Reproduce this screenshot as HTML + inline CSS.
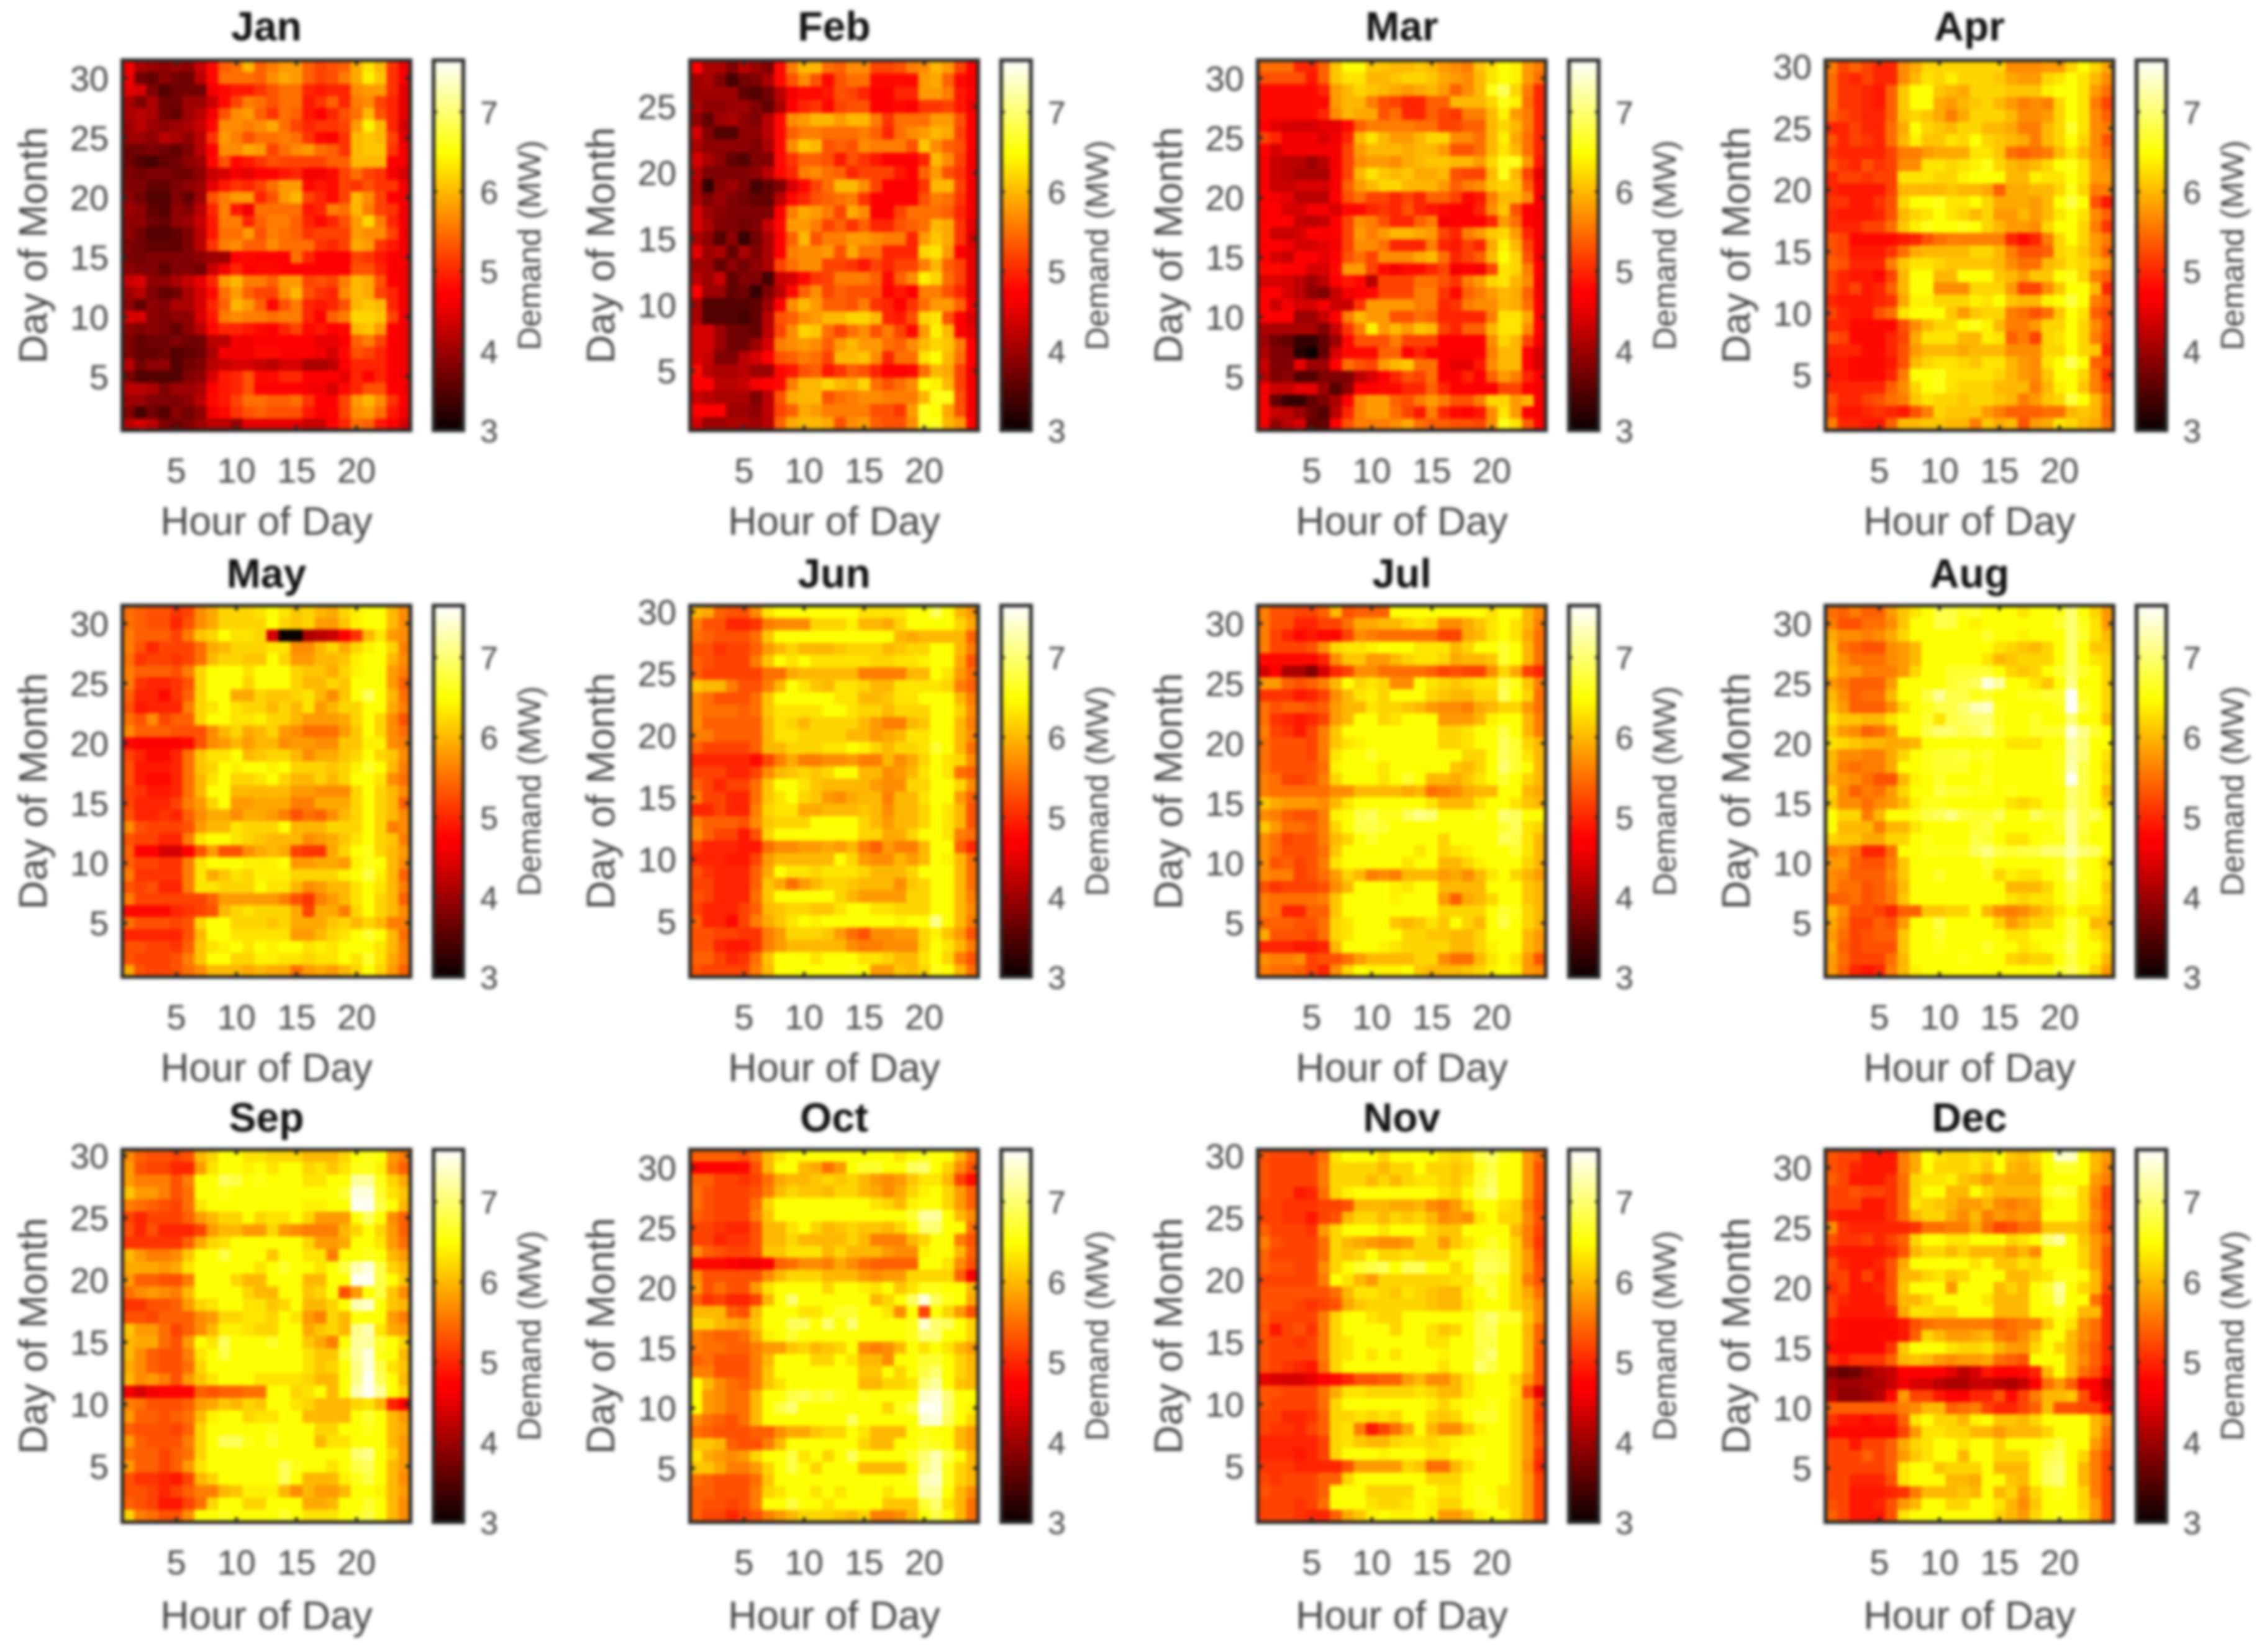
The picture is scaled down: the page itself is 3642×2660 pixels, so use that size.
<!DOCTYPE html>
<html lang="en">
<head>
<meta charset="utf-8">
<title>Monthly Demand Heatmaps</title>
<style>
html,body{margin:0;padding:0;background:#fff;width:3642px;height:2660px;overflow:hidden}
svg{display:block;filter:blur(2.6px)}
text{font-family:"Liberation Sans",Arial,sans-serif}
</style>
</head>
<body>
<svg id="chart" xmlns="http://www.w3.org/2000/svg" width="3642" height="2660" viewBox="0 0 3642 2660"></svg>
<script>
// Values are demand in tenths of a MW. Each month lists rows from the last day (top) down to day 1; each row holds hours 1-24.
const monthNames=['Jan','Feb','Mar','Apr','May','Jun','Jul','Aug','Sep','Oct','Nov','Dec'];
const hourTicks=[5,10,15,20];
const dayTicks=[5,10,15,20,25,30];
const febDayTicks=[5,10,15,20,25];
const colorbarTicks=[3,4,5,6,7];
const demandMin=3;
const demandMax=7.65;
const jan=[
[46,41,40,39,40,39,43,48,54,55,60,54,56,58,58,54,52,53,54,59,63,60,51,46],
[46,37,36,39,37,37,42,48,55,55,55,54,57,59,58,54,52,53,56,59,64,61,51,47],
[45,44,38,35,37,37,37,46,48,49,49,51,53,55,55,50,49,50,50,57,58,58,51,45],
[41,38,41,37,37,40,40,43,48,52,56,55,53,55,55,49,51,54,50,56,57,52,50,45],
[41,42,41,37,36,40,42,46,53,57,58,54,51,55,54,49,47,50,53,55,60,53,50,45],
[40,42,40,39,40,41,43,48,57,57,56,57,59,55,52,50,51,51,52,58,64,60,50,44],
[40,40,39,42,41,39,42,51,58,56,53,55,55,56,55,51,48,47,51,60,61,60,52,45],
[37,37,38,37,36,38,42,47,57,57,59,58,52,55,57,58,55,54,51,60,61,61,51,46],
[37,35,34,36,37,39,40,48,53,48,49,51,53,52,52,52,52,54,54,60,60,60,47,46],
[38,37,38,38,37,37,39,43,44,46,45,47,47,49,50,46,46,48,52,55,52,51,46,44],
[38,38,36,36,38,39,40,45,49,51,50,52,55,58,58,48,49,48,52,51,53,51,51,46],
[39,37,35,35,38,36,40,53,56,58,58,50,53,58,60,52,50,48,52,60,57,52,47,46],
[40,39,36,35,39,38,42,50,56,49,46,55,55,55,55,49,50,56,55,60,56,52,51,46],
[39,39,37,36,39,40,43,49,56,56,50,54,56,56,54,50,48,50,53,58,62,56,50,46],
[39,37,35,35,36,38,42,49,55,55,58,53,56,55,54,51,52,52,52,58,57,57,52,46],
[38,37,36,36,36,38,42,51,56,57,54,54,57,55,55,55,51,50,52,59,58,51,49,46],
[38,37,38,38,38,38,39,40,40,47,48,47,47,47,55,50,47,47,47,52,51,49,47,46],
[39,38,38,36,38,38,37,43,46,50,47,48,48,47,47,47,47,47,47,53,53,50,47,46],
[43,44,39,39,41,43,45,50,58,60,56,56,54,58,58,52,53,52,56,60,59,53,47,46],
[40,42,38,36,37,41,44,48,55,58,54,52,52,57,60,53,51,50,57,60,59,52,50,46],
[39,36,39,38,41,41,44,50,54,60,58,54,48,53,56,50,49,50,53,60,61,60,50,46],
[44,44,39,38,39,39,44,49,56,57,56,56,55,56,56,50,47,54,56,62,62,61,52,46],
[39,38,39,38,36,39,42,48,50,50,49,48,47,50,52,48,49,47,48,60,61,58,47,46],
[38,36,37,37,38,37,37,42,42,46,46,47,47,47,47,47,45,45,47,54,56,52,47,46],
[38,36,36,37,35,36,37,41,46,46,46,48,48,47,47,47,46,44,48,53,52,50,47,46],
[42,37,39,39,35,37,38,42,43,44,44,43,42,44,44,41,41,42,47,50,50,50,47,46],
[38,35,35,35,35,38,39,44,49,50,53,48,48,50,50,47,47,47,45,50,47,50,47,46],
[42,42,41,38,40,40,41,47,49,50,53,47,47,47,47,46,46,44,48,50,53,53,47,46],
[40,40,38,38,38,39,42,48,49,52,55,55,54,54,55,51,47,47,52,58,60,57,51,47],
[38,34,37,35,39,37,39,46,48,51,53,54,53,53,53,49,47,47,52,57,58,55,49,46],
[42,44,42,38,37,38,40,42,42,40,45,45,45,45,45,43,43,47,50,55,54,49,47,44]
];
const feb=[
[47,41,41,38,42,40,38,48,56,60,60,55,54,57,57,52,52,53,56,57,60,58,52,47],
[40,41,38,34,37,38,41,48,53,57,53,48,53,55,55,48,48,48,48,58,59,54,48,46],
[40,40,40,40,36,35,37,42,46,48,48,49,53,52,50,47,47,50,50,58,58,56,49,47],
[41,39,39,40,40,38,36,41,47,50,51,48,52,53,53,47,47,48,47,51,51,52,49,46],
[39,36,40,41,39,38,42,48,57,58,60,60,58,60,60,56,51,55,55,55,58,58,53,47],
[44,38,35,35,39,39,42,48,54,56,56,55,55,55,56,54,50,55,57,58,60,59,52,47],
[41,39,39,39,39,38,41,48,57,61,60,53,54,53,57,56,56,56,53,61,57,54,53,47],
[44,41,39,36,35,38,38,48,51,54,54,53,49,53,51,49,47,47,47,50,60,57,52,46],
[42,38,38,38,38,39,42,48,50,56,57,55,54,50,52,52,52,49,47,54,58,53,51,46],
[41,33,39,40,38,34,36,38,44,48,52,55,60,60,57,52,47,47,47,51,60,60,52,46],
[41,38,40,38,37,36,36,42,48,50,53,54,55,56,51,47,47,47,47,53,56,55,51,46],
[44,40,39,38,38,38,38,47,56,59,58,56,52,59,57,47,47,52,55,55,55,54,50,46],
[44,41,38,38,37,38,43,48,58,58,56,52,54,51,54,50,50,53,54,55,60,59,51,45],
[41,39,35,39,33,37,41,47,54,60,53,56,56,58,58,57,56,56,50,58,61,59,51,44],
[45,40,41,36,41,38,41,47,56,57,57,58,53,59,55,55,50,50,50,62,63,58,47,45],
[40,40,36,39,37,39,41,52,55,57,57,52,52,51,49,52,50,52,52,56,60,54,52,45],
[42,40,43,36,38,38,34,43,44,48,51,52,56,56,56,54,48,54,57,64,62,55,52,45],
[47,40,40,36,37,33,38,42,48,54,57,52,54,53,53,53,47,49,47,56,56,53,50,45],
[41,35,35,35,35,36,40,47,57,60,58,54,54,53,56,51,50,47,51,55,58,58,54,46],
[41,35,35,35,34,36,42,53,54,57,58,60,60,62,62,60,50,49,53,62,63,53,47,44],
[44,44,40,37,37,36,42,52,57,62,61,55,52,55,57,53,56,52,48,58,64,60,47,45],
[44,44,40,37,37,40,44,56,57,58,57,54,58,60,58,58,55,54,57,60,62,61,56,47],
[44,43,38,38,42,44,47,53,54,56,55,52,60,60,61,57,50,55,55,63,65,60,55,47],
[48,42,41,41,42,40,40,48,49,53,54,49,51,54,53,50,47,47,48,55,60,59,52,46],
[47,47,42,42,43,46,47,48,56,60,60,62,60,59,62,55,53,55,57,65,64,60,52,46],
[43,42,41,41,41,38,42,53,59,60,60,53,55,56,57,57,56,56,56,60,66,66,53,46],
[47,47,47,40,40,39,42,52,54,59,58,56,56,56,56,53,53,51,58,66,65,59,53,46],
[44,40,40,41,41,40,42,54,59,60,60,59,53,57,58,54,53,53,57,66,66,60,58,47]
];
const mar=[
[55,55,55,50,50,54,61,65,65,61,61,60,60,61,60,58,57,56,61,63,65,64,58,56],
[53,53,53,53,49,54,61,63,63,60,60,61,62,62,61,59,58,57,60,63,65,64,58,55],
[48,48,48,48,48,50,58,60,62,61,60,59,58,59,60,58,54,57,60,66,69,62,56,50],
[48,48,48,48,48,48,58,60,60,56,53,52,50,50,54,54,60,60,60,62,66,64,55,50],
[48,48,48,48,48,50,57,60,59,59,53,55,50,50,54,52,51,56,56,60,64,58,56,50],
[47,45,44,44,44,45,45,48,54,56,56,56,56,55,55,52,52,54,54,60,62,60,56,50],
[52,50,46,46,46,44,46,50,60,63,60,58,58,60,62,62,57,57,55,60,64,59,55,50],
[47,44,46,46,46,46,46,52,58,60,60,60,59,60,60,58,53,53,55,60,63,60,55,50],
[46,43,42,42,40,42,46,52,57,58,58,57,59,60,61,61,60,60,58,62,66,66,58,49],
[46,43,42,41,41,41,46,52,60,63,61,60,61,59,59,60,53,52,52,60,66,60,52,45],
[46,43,43,44,44,44,46,54,58,60,62,62,60,60,60,58,54,56,57,61,62,61,54,46],
[47,46,45,42,42,42,47,53,55,52,52,50,52,50,54,54,52,48,49,56,60,60,57,46],
[47,47,44,44,46,46,44,48,48,50,51,50,53,50,49,48,47,47,50,57,61,53,47,46],
[47,47,47,43,42,43,47,52,57,56,53,50,50,54,56,46,47,47,47,50,58,55,47,46],
[47,43,43,44,47,47,47,52,58,56,58,60,60,59,58,52,50,56,58,61,62,58,50,46],
[47,47,46,44,44,45,46,52,57,57,55,50,50,50,56,50,49,52,50,59,64,60,52,46],
[47,44,43,47,47,45,47,53,55,52,57,57,57,59,60,55,50,52,54,60,65,62,53,46],
[48,48,47,47,44,44,48,58,58,52,48,46,48,48,50,52,46,47,46,52,63,62,56,47],
[44,44,44,42,40,42,47,49,48,42,52,52,52,55,55,53,51,56,58,62,63,60,57,46],
[47,47,44,42,39,38,43,46,47,48,52,52,52,56,56,51,48,54,56,58,60,59,54,46],
[47,43,46,44,44,46,43,43,51,58,58,58,58,56,56,50,51,56,57,57,60,59,55,47],
[47,47,47,40,40,43,47,56,60,58,58,53,53,55,54,50,50,50,50,56,63,63,59,47],
[41,41,41,41,41,38,43,51,56,64,58,60,58,61,60,52,50,54,54,60,63,63,57,47],
[40,37,36,33,33,36,40,48,53,53,53,56,52,52,52,47,47,47,47,57,62,60,52,46],
[41,38,38,32,30,36,44,48,48,48,54,54,47,50,47,47,47,47,47,56,60,60,47,44],
[43,38,38,45,40,40,47,55,53,52,58,60,61,55,55,47,45,45,49,57,60,60,47,44],
[42,38,39,35,35,38,38,38,42,44,47,50,53,52,55,47,47,50,47,54,58,56,50,47],
[46,43,43,45,45,40,35,39,47,47,48,48,50,50,54,50,47,47,47,47,52,52,47,46],
[46,36,33,33,36,38,41,47,56,58,58,54,53,56,58,56,53,53,56,62,62,58,60,46],
[46,43,42,40,37,35,42,50,56,58,58,55,52,49,56,50,48,47,49,57,63,58,47,46],
[46,39,42,44,36,36,47,53,56,56,56,57,59,55,54,54,53,53,52,57,66,63,54,47]
];
const apr=[
[56,52,54,52,50,50,57,59,62,62,62,62,62,62,62,57,57,57,58,58,62,65,62,59],
[55,51,50,52,50,50,57,60,63,62,64,62,62,62,61,59,58,58,62,63,65,63,60,57],
[55,51,51,50,49,54,61,65,65,61,60,59,62,62,62,61,61,61,64,65,65,63,58,55],
[55,51,51,50,49,54,61,65,65,59,58,60,61,62,60,58,56,57,56,62,65,63,56,52],
[54,52,51,50,50,54,61,62,61,59,56,59,62,62,62,60,57,57,58,62,65,63,57,54],
[50,50,52,50,50,55,59,65,62,61,60,62,62,60,60,59,56,56,60,62,67,63,57,56],
[53,50,52,51,50,55,60,64,61,61,63,62,65,62,61,60,59,56,60,62,65,62,57,53],
[51,50,50,50,50,52,56,56,58,59,59,59,63,63,61,55,54,55,56,60,63,60,57,55],
[53,51,50,53,51,52,57,57,63,63,62,63,64,66,62,60,59,60,62,65,66,63,58,57],
[50,52,52,51,52,52,63,63,63,62,62,64,65,65,65,60,60,64,63,63,65,63,58,58],
[50,49,49,49,49,52,60,60,60,60,61,60,60,59,54,59,59,60,60,62,66,62,56,56],
[51,51,49,49,51,53,62,65,65,66,63,63,65,62,59,59,59,58,60,65,68,65,53,49],
[50,49,49,49,50,53,60,62,63,65,63,62,60,62,58,58,60,58,60,63,65,63,57,54],
[50,50,50,52,52,55,61,64,66,65,65,66,65,62,60,58,58,57,62,65,65,62,56,51],
[53,52,48,48,48,48,49,50,53,55,56,56,56,56,56,50,48,50,56,62,65,62,58,56],
[53,52,49,49,49,51,55,59,60,60,60,60,62,62,60,56,53,53,54,62,63,61,58,54],
[54,53,50,50,50,56,61,63,63,62,61,61,61,61,60,57,55,55,60,61,63,62,60,58],
[52,50,49,49,48,52,60,65,65,60,60,65,65,65,61,60,58,61,61,65,66,62,56,54],
[52,50,52,49,50,54,60,65,65,57,57,57,62,62,62,58,52,52,57,61,65,65,60,50],
[50,49,49,49,50,51,59,64,64,62,62,62,64,63,65,61,60,60,64,65,68,65,56,54],
[52,50,49,49,53,55,63,65,65,65,61,58,61,62,62,56,55,53,55,61,65,63,54,52],
[50,50,48,48,48,48,53,57,60,62,62,65,66,64,60,56,56,58,62,62,65,62,57,53],
[53,52,48,48,48,50,52,59,63,63,63,60,60,64,63,54,56,52,62,63,65,62,56,52],
[50,50,50,48,48,50,53,58,60,60,60,59,60,60,60,57,57,57,62,62,65,62,61,50],
[49,49,48,48,48,49,53,60,62,63,63,62,61,63,63,60,58,57,63,65,69,65,54,53],
[49,49,48,48,48,50,56,65,65,66,63,63,63,63,62,60,58,57,61,65,65,62,56,50],
[50,50,50,50,50,54,57,62,65,66,63,62,62,62,60,60,60,56,60,64,65,61,56,52],
[53,50,50,52,53,55,56,61,63,62,62,61,62,62,61,60,56,58,61,62,68,65,60,55],
[52,49,49,50,51,50,49,53,56,62,61,61,61,58,56,54,54,54,55,55,60,61,60,54],
[56,50,50,49,49,54,60,60,61,61,60,60,56,61,59,60,53,58,59,63,62,60,59,55]
];
const may=[
[55,54,53,53,51,52,57,59,62,62,62,63,65,63,61,62,60,59,62,64,65,65,60,57],
[55,54,53,53,50,53,57,59,62,62,62,62,65,62,61,62,58,58,61,64,65,65,60,57],
[56,54,54,54,52,56,61,62,65,63,63,62,44,30,30,41,42,43,47,51,60,63,58,57],
[56,53,50,52,52,52,55,59,60,62,62,62,63,63,57,57,60,62,59,62,64,65,62,56],
[55,51,52,52,51,52,55,60,62,62,61,61,65,62,58,58,60,60,61,64,65,65,60,57],
[56,54,54,54,53,56,62,65,65,65,63,65,65,65,62,61,61,59,62,64,65,65,58,56],
[56,51,50,50,51,53,62,65,65,65,62,65,65,65,62,60,60,62,61,65,65,65,58,54],
[54,50,50,48,51,54,62,65,65,59,59,62,61,61,62,63,60,57,61,65,69,65,60,55],
[53,49,50,50,50,56,62,63,65,63,62,62,60,62,60,63,58,60,62,62,65,65,59,56],
[55,53,57,52,54,54,62,65,65,63,63,64,62,62,60,58,58,58,59,62,65,62,57,53],
[57,54,54,54,53,53,53,57,60,62,59,60,62,58,57,55,55,55,58,61,65,62,57,55],
[48,47,47,47,47,48,53,57,58,60,58,60,60,57,58,58,57,57,61,61,64,64,57,56],
[52,50,48,48,50,55,61,63,63,65,60,61,62,62,60,57,59,59,61,62,65,62,61,57],
[53,49,49,49,50,55,61,62,65,64,65,65,64,65,62,62,62,61,62,64,67,65,60,56],
[53,49,48,48,50,55,60,63,65,62,62,63,65,62,60,60,62,60,62,65,65,63,57,55],
[52,51,49,49,50,55,60,65,65,60,60,60,60,60,58,58,57,57,57,62,65,62,60,57],
[52,50,50,50,52,56,58,62,65,58,58,59,59,59,56,56,59,59,59,62,65,62,60,54],
[53,50,50,51,50,54,57,59,59,57,59,59,58,56,53,55,54,57,60,62,65,62,60,57],
[57,53,52,52,52,53,58,60,60,63,62,62,62,65,60,60,60,62,62,62,65,62,56,57],
[53,52,52,50,50,56,63,65,65,63,62,61,60,60,60,57,58,59,61,63,65,62,61,56],
[54,47,47,44,44,47,53,58,53,53,57,59,60,59,52,51,51,59,62,65,66,62,60,58],
[54,52,52,51,51,56,63,65,65,65,64,64,64,65,58,58,59,59,58,64,66,65,60,57],
[56,51,51,51,51,56,63,59,61,63,62,64,64,64,62,62,62,62,64,65,68,64,60,54],
[53,52,53,50,50,56,63,63,62,62,62,65,63,63,60,57,58,60,60,63,65,63,60,56],
[56,52,52,52,52,52,52,54,58,58,58,58,58,56,53,51,56,58,60,63,65,62,60,54],
[48,48,48,48,50,51,52,53,60,62,63,62,62,62,59,52,59,59,56,62,65,62,60,57],
[55,53,53,53,52,53,62,65,65,62,62,62,61,62,59,59,59,61,62,60,62,60,56,56],
[50,50,50,50,50,53,60,65,65,63,63,63,63,63,58,58,60,62,63,65,67,65,60,55],
[53,53,52,52,51,54,61,63,64,65,63,65,64,65,65,63,64,63,65,65,65,63,60,56],
[53,52,52,52,53,56,61,65,65,62,62,64,64,63,63,62,63,63,65,63,67,63,59,56],
[59,53,52,52,53,55,57,60,60,60,59,60,59,59,55,58,59,58,60,62,65,62,58,54]
];
const jun=[
[60,59,54,53,53,57,63,65,65,65,65,65,65,65,63,63,63,63,65,65,69,65,60,58],
[56,53,53,50,50,51,56,57,57,57,62,62,62,64,60,60,59,62,65,65,65,65,62,59],
[55,54,53,53,53,55,61,65,65,65,65,65,65,65,65,65,65,60,59,60,60,60,60,54],
[53,53,51,52,52,54,58,60,62,60,60,60,61,62,62,62,60,61,62,62,65,65,60,56],
[54,53,52,52,52,56,61,65,63,65,63,63,63,63,63,62,62,63,63,64,65,65,59,53],
[54,52,52,52,52,52,55,55,59,60,60,60,60,60,56,56,56,56,60,60,65,63,58,55],
[61,60,60,56,53,53,56,60,65,63,61,60,63,63,62,60,60,63,63,63,63,62,56,54],
[57,55,53,53,53,55,61,65,65,65,65,65,63,63,60,60,61,63,63,65,65,65,60,56],
[57,55,55,55,54,55,61,63,63,63,63,65,65,63,62,62,60,62,62,62,65,65,62,57],
[57,54,54,54,54,54,60,63,62,60,62,62,62,62,60,58,56,56,60,61,65,65,60,56],
[56,56,54,54,54,54,60,63,63,62,62,62,62,60,60,58,59,60,63,63,65,65,60,57],
[54,52,52,52,52,54,60,60,62,62,62,63,63,65,64,62,60,62,62,63,67,65,60,55],
[50,50,50,50,50,48,52,56,59,56,56,57,57,58,56,56,60,57,59,62,65,63,62,57],
[52,52,52,50,50,52,57,60,61,62,61,62,65,65,60,60,57,58,60,63,65,63,55,54],
[54,52,50,52,52,55,61,65,65,63,61,60,60,60,60,58,57,57,62,62,65,65,62,57],
[56,52,52,50,50,55,61,63,65,62,61,58,57,59,60,60,56,60,60,63,65,65,58,54],
[50,50,52,50,50,56,62,63,63,59,59,60,60,60,61,60,57,60,60,62,65,63,60,53],
[56,54,54,54,53,57,61,62,62,62,65,65,65,65,62,60,58,60,60,62,65,63,60,53],
[57,54,52,52,49,53,62,65,65,65,65,65,65,65,62,62,59,59,62,65,65,63,56,55],
[52,50,50,50,49,49,55,57,57,58,58,59,58,60,56,54,58,56,56,60,65,65,54,50],
[50,50,50,49,49,52,58,60,60,60,60,60,65,62,58,57,57,60,58,60,65,64,60,55],
[53,51,50,50,50,54,59,65,63,63,62,63,63,63,62,60,60,60,62,65,65,65,60,55],
[52,52,50,50,50,54,61,59,55,58,60,62,62,61,60,60,60,57,61,62,65,65,60,55],
[53,52,50,50,50,55,61,65,65,65,65,65,62,60,58,58,58,58,62,62,65,65,60,56],
[52,50,50,50,52,54,60,61,62,62,61,61,63,65,65,63,63,62,62,62,65,65,60,57],
[54,50,50,48,52,56,59,61,63,65,64,65,65,65,65,65,65,64,65,65,71,65,60,56],
[53,53,52,52,51,51,56,58,62,62,62,61,58,55,53,57,57,58,58,62,64,61,58,53],
[53,53,50,49,49,51,56,58,60,60,60,60,60,57,56,56,57,57,57,62,65,63,60,56],
[54,54,52,50,51,55,61,65,65,65,63,65,65,65,63,63,62,60,60,63,65,62,56,53],
[53,52,52,52,52,56,60,65,65,65,65,65,65,66,65,58,58,61,60,62,66,65,60,55]
];
const jul=[
[56,53,53,52,52,54,60,53,54,54,54,65,65,65,65,65,65,65,65,63,65,65,60,57],
[56,53,53,50,50,52,52,55,59,59,60,60,62,63,62,57,57,59,61,63,65,63,60,56],
[56,52,50,48,49,48,48,52,57,56,55,55,55,55,55,52,52,59,60,63,65,63,59,55],
[56,52,52,52,53,57,62,63,63,64,65,65,65,63,63,63,60,62,65,65,67,65,60,55],
[48,48,48,48,48,50,57,61,61,58,58,60,62,63,63,62,59,60,60,61,67,65,60,55],
[44,47,41,41,38,44,50,52,57,57,55,55,55,55,54,52,53,52,52,57,62,59,52,50],
[58,58,54,53,54,56,60,65,62,63,62,57,57,65,63,62,61,62,63,63,68,66,61,56],
[51,51,51,49,50,52,57,60,63,64,62,65,65,65,62,61,60,60,62,62,69,65,62,55],
[55,53,54,54,53,54,58,60,60,63,62,62,61,60,58,57,57,56,59,60,62,62,58,55],
[55,51,50,49,50,52,58,60,65,65,62,63,65,65,65,58,58,58,60,64,65,65,60,56],
[56,52,51,49,52,56,61,65,65,65,65,65,65,65,65,62,62,63,65,65,68,65,60,56],
[55,53,53,53,52,56,61,63,64,65,65,65,65,65,65,62,62,63,65,65,69,67,62,60],
[55,53,53,53,52,56,63,65,65,67,65,65,65,65,65,65,65,62,62,65,69,67,63,60],
[55,53,53,53,53,55,64,65,65,65,63,65,65,65,65,65,61,60,62,65,70,67,65,60],
[56,55,52,52,53,56,62,65,65,65,63,65,67,65,60,60,59,61,63,65,67,65,62,60],
[56,55,55,55,55,55,57,57,60,60,60,60,59,60,55,56,57,59,60,60,65,65,60,59],
[61,59,58,58,58,57,60,63,65,65,65,65,65,65,63,60,60,60,63,65,65,63,61,60],
[57,56,54,53,53,56,64,65,68,69,66,66,69,71,70,65,65,65,66,65,70,69,65,65],
[61,58,55,55,54,56,62,65,68,68,67,65,65,65,65,65,65,65,65,65,67,69,63,62],
[57,55,52,53,53,56,60,62,65,67,65,65,65,65,65,62,65,65,65,65,69,68,63,60],
[57,55,53,53,53,55,61,65,65,65,65,65,65,63,65,62,63,64,65,65,65,67,63,60],
[57,53,54,52,53,56,63,65,65,65,65,65,63,65,65,60,60,62,64,65,65,65,62,60],
[57,56,56,52,53,55,58,62,60,56,57,56,60,60,60,58,59,57,60,63,65,62,60,58],
[53,51,52,52,52,53,57,60,65,65,65,64,63,65,65,60,60,60,60,65,65,65,61,60],
[56,55,55,55,55,56,61,65,65,65,65,64,65,65,65,58,54,59,60,62,65,65,61,60],
[56,55,50,50,54,54,61,65,65,65,65,65,65,65,65,62,62,62,62,65,67,66,62,60],
[54,54,54,53,53,55,62,63,65,65,65,61,60,61,63,61,65,62,60,65,68,65,62,60],
[59,53,53,53,52,55,62,63,65,65,65,65,62,62,61,61,60,60,62,65,65,65,60,58],
[50,50,50,49,49,50,60,65,65,65,64,63,62,62,62,62,60,60,62,64,65,65,60,58],
[57,56,56,57,52,53,53,55,58,60,60,60,60,62,62,57,55,55,60,63,65,63,58,53],
[56,55,55,54,52,50,57,62,65,64,64,64,65,61,60,60,60,61,62,64,65,64,58,57]
];
const aug=[
[55,54,56,54,54,58,61,63,65,68,68,66,67,65,65,65,63,65,65,66,70,65,62,58],
[56,53,53,55,55,57,61,65,65,68,68,65,64,65,65,65,65,65,65,67,70,66,63,58],
[59,57,57,56,57,59,62,65,65,65,65,65,65,67,65,65,64,65,65,65,70,67,63,60],
[60,55,54,53,53,57,58,60,65,65,65,65,65,65,63,62,61,60,62,65,70,65,61,61],
[60,57,55,55,55,57,58,60,65,65,65,65,65,63,60,61,62,62,62,65,70,65,63,62],
[61,58,58,56,56,56,58,62,65,65,67,67,67,67,65,62,61,62,65,67,70,67,65,62],
[58,56,54,54,54,58,65,65,65,65,67,68,69,75,72,65,65,63,61,65,71,65,65,62],
[60,57,54,55,55,60,65,65,68,72,68,68,66,67,65,65,66,66,67,67,77,66,65,62],
[61,58,54,54,54,57,62,65,66,68,68,70,73,74,66,65,65,65,65,66,77,68,65,62],
[63,61,61,60,60,63,65,65,67,63,68,69,70,70,66,65,65,67,65,65,70,65,65,60],
[61,58,57,54,55,58,65,65,68,70,70,68,69,71,67,65,65,67,67,67,75,71,67,65],
[63,62,61,60,60,59,59,60,65,65,65,65,65,65,65,63,63,63,65,65,72,70,65,65],
[60,57,57,56,56,59,62,65,66,67,67,68,66,67,65,65,65,65,65,66,72,70,65,63],
[60,56,55,56,56,59,65,65,66,67,67,67,65,66,65,65,65,65,65,66,73,68,65,62],
[59,58,57,55,53,53,60,64,65,67,65,65,65,67,65,65,65,65,65,66,76,68,65,63],
[62,57,54,56,55,58,62,65,65,68,67,67,66,66,65,66,65,65,65,65,70,68,65,60],
[61,57,57,55,57,58,60,64,66,66,65,65,65,65,65,63,62,63,65,65,70,68,65,62],
[65,62,62,56,60,65,65,66,68,69,71,68,67,67,69,65,65,69,67,67,72,68,69,65],
[65,60,60,60,56,60,60,63,65,65,65,65,67,68,65,65,65,65,65,67,72,68,65,65],
[62,61,61,59,59,62,62,65,66,65,65,65,68,67,65,63,63,65,66,66,72,67,65,65],
[56,57,55,50,50,55,65,65,66,66,66,66,69,71,68,67,68,68,70,70,73,70,69,65],
[58,58,54,53,53,56,61,65,65,65,65,65,65,67,65,65,65,65,65,66,70,66,65,62],
[57,56,54,54,54,57,61,65,65,67,65,65,65,66,62,64,63,63,65,66,71,66,65,63],
[57,55,55,53,54,56,60,65,65,65,65,65,65,65,65,60,60,60,62,65,68,66,65,61],
[54,54,55,53,54,56,61,65,65,65,65,65,65,65,65,63,62,63,63,65,68,65,65,62],
[60,57,53,53,52,50,54,54,61,61,62,62,65,60,57,56,57,59,61,63,65,63,63,61],
[59,56,52,52,54,53,58,65,65,68,65,65,65,65,62,58,60,62,62,65,68,65,60,60],
[58,55,52,53,54,54,61,65,65,67,65,65,65,65,65,63,63,65,65,65,68,65,63,61],
[59,54,52,53,53,53,61,65,65,66,65,65,65,67,65,65,63,64,65,66,69,65,65,62],
[58,55,52,52,52,55,60,65,65,65,65,66,65,65,65,62,61,62,62,65,68,65,64,60],
[58,54,50,49,50,56,60,64,65,65,65,65,65,65,65,65,65,65,65,67,69,66,62,58]
];
const sep=[
[57,54,53,53,52,53,60,62,65,65,63,63,62,62,62,60,60,60,62,65,66,65,58,56],
[58,53,52,52,50,50,58,63,65,65,64,65,63,65,65,62,63,61,63,66,66,64,57,54],
[58,56,56,56,53,56,65,65,69,68,65,66,65,65,65,63,63,65,65,72,72,66,62,59],
[61,58,58,56,53,55,65,65,66,65,65,65,65,65,65,65,65,65,67,75,75,67,63,61],
[56,55,54,53,52,55,63,65,65,65,65,65,65,65,65,64,64,65,65,76,76,68,65,60],
[52,50,52,52,52,54,58,60,62,62,65,62,63,63,65,62,58,58,58,65,69,65,57,54],
[53,50,53,50,50,50,52,58,60,60,58,58,62,58,57,56,56,56,60,62,65,62,58,54],
[51,51,51,51,51,54,59,62,63,65,65,65,65,65,65,62,58,58,59,65,65,63,58,55],
[60,58,56,56,57,61,65,65,68,65,65,65,61,65,65,63,63,56,65,65,66,65,60,58],
[59,59,59,58,59,63,65,65,65,65,65,63,65,67,65,65,63,65,68,73,75,68,62,60],
[58,54,54,53,53,56,65,65,65,62,60,60,65,65,65,60,60,65,65,76,76,68,65,61],
[55,57,58,57,56,60,65,65,65,65,62,60,60,65,65,61,62,65,53,58,65,68,61,57],
[51,51,53,53,54,58,62,63,65,65,63,63,61,62,65,60,60,62,65,73,74,65,61,60],
[53,53,52,54,54,54,57,58,62,62,63,63,62,65,63,58,56,62,60,65,65,65,58,56],
[61,58,58,55,52,54,57,60,64,64,63,62,62,65,65,59,61,62,60,71,73,63,59,58],
[60,59,59,55,53,58,65,63,69,65,65,65,67,65,65,61,59,56,65,72,72,67,65,62],
[60,57,54,53,53,56,63,65,68,65,65,65,65,65,65,63,61,61,67,72,75,66,65,60],
[59,57,54,53,53,55,62,65,65,65,65,65,65,65,65,63,61,62,65,71,75,68,63,61],
[60,57,58,56,53,58,61,63,65,65,65,63,63,63,63,62,60,60,65,71,76,69,65,60],
[46,44,46,47,47,47,54,53,54,54,55,55,65,65,62,63,65,60,65,73,76,72,65,62],
[56,55,53,53,53,54,58,59,61,60,62,61,65,65,63,62,60,60,60,62,63,60,50,47],
[58,54,54,53,54,55,60,64,65,65,62,63,63,65,65,60,60,60,60,65,67,65,60,58],
[54,53,53,53,52,54,62,65,65,65,65,65,66,65,65,65,62,62,65,65,66,65,60,59],
[58,54,53,53,53,56,62,65,69,69,66,65,67,65,65,65,60,63,63,65,65,65,60,58],
[55,54,54,52,54,55,62,65,65,65,65,65,65,65,65,65,65,65,65,70,71,65,62,58],
[58,54,54,52,54,58,63,65,65,65,65,65,65,69,66,65,65,63,65,68,69,65,60,58],
[53,51,51,50,49,52,60,62,65,65,65,65,65,69,65,60,60,60,64,66,68,65,60,57],
[53,53,52,50,52,54,56,56,60,61,64,64,64,60,57,60,58,58,60,65,65,64,60,58],
[54,53,52,49,49,52,55,62,65,65,62,62,65,65,65,59,59,60,65,65,67,65,60,57],
[62,56,55,53,53,57,65,65,66,65,65,65,65,67,65,63,63,63,65,66,68,65,60,57]
];
const oct=[
[54,54,54,54,53,55,60,63,65,65,65,65,65,65,65,65,65,63,65,66,65,65,60,55],
[47,47,47,47,48,53,60,65,65,60,59,55,58,65,67,67,65,65,69,70,65,62,57,53],
[54,54,52,52,51,52,55,59,60,60,61,62,61,62,60,58,57,58,61,63,63,60,52,48],
[55,53,52,52,52,53,56,60,62,61,61,60,62,62,60,59,57,59,62,64,65,62,58,54],
[55,53,52,52,52,55,62,65,65,65,65,65,65,65,65,63,62,60,64,65,65,62,58,54],
[54,53,52,52,52,56,61,65,65,65,65,65,65,65,65,65,65,65,67,72,72,65,60,57],
[52,52,51,50,50,53,60,60,63,65,62,60,61,62,61,61,60,62,65,70,70,65,65,55],
[52,52,50,51,51,53,60,60,62,60,60,60,60,62,60,56,56,56,60,62,65,65,56,53],
[57,54,53,52,52,53,61,61,63,63,63,60,62,60,60,60,58,57,57,64,65,65,60,54],
[48,48,48,47,46,46,47,54,55,57,57,56,59,57,55,54,54,54,54,65,65,63,57,53],
[57,53,53,53,53,53,57,60,62,62,62,60,60,60,58,57,58,58,62,62,62,62,54,46],
[58,53,55,53,53,58,63,65,65,65,65,62,65,65,64,63,65,61,63,66,66,65,65,60],
[54,51,52,50,50,52,60,65,70,65,65,65,65,65,65,60,62,65,69,75,69,66,65,59],
[60,60,60,54,53,60,65,65,65,63,63,65,67,67,65,65,63,57,65,52,65,62,58,53],
[62,62,60,59,58,61,65,65,69,69,65,70,65,70,65,65,65,65,66,74,70,69,65,62],
[56,55,54,54,55,59,64,65,67,65,65,65,65,65,65,65,65,65,66,70,70,65,65,62],
[56,55,55,54,54,56,58,58,61,62,60,61,62,65,57,56,57,60,65,63,65,63,60,58],
[54,55,53,53,53,56,60,65,65,65,62,62,65,63,60,60,57,65,65,67,67,65,62,60],
[56,56,53,53,53,56,61,65,65,65,65,65,65,65,61,61,65,62,65,68,70,65,62,60],
[65,60,57,55,54,56,61,63,65,65,65,65,65,65,60,60,62,62,63,70,72,65,61,60],
[65,58,57,55,55,60,65,65,68,69,67,68,66,65,66,65,65,65,65,74,75,70,65,65],
[65,58,57,55,55,60,65,68,70,65,65,65,65,65,65,65,62,66,68,76,76,70,65,64],
[57,55,54,53,55,60,65,65,65,65,65,65,65,69,65,65,65,65,65,74,75,69,65,62],
[55,54,53,53,53,54,54,57,59,59,61,62,62,65,63,60,60,60,65,66,65,65,60,58],
[61,61,60,54,53,53,56,60,65,65,65,65,65,65,62,60,60,65,65,67,66,65,60,58],
[63,59,58,57,58,62,65,65,68,63,65,62,65,69,65,65,65,65,67,70,73,68,65,60],
[61,61,59,56,56,58,62,65,68,65,62,65,65,65,60,60,60,60,65,71,73,66,62,60],
[55,54,53,53,53,55,61,65,65,65,65,65,65,65,65,65,65,65,66,73,74,66,62,60],
[54,54,53,53,53,56,62,63,65,65,63,65,63,65,65,65,63,65,65,72,72,65,60,57],
[54,53,53,52,53,56,65,65,68,65,65,63,65,65,65,65,61,61,61,67,70,63,60,55],
[54,52,52,50,52,53,56,58,60,62,62,62,61,60,62,56,56,57,60,65,68,65,60,55]
];
const nov=[
[53,52,52,52,52,55,63,65,65,65,62,65,65,65,65,63,62,63,68,69,66,65,58,55],
[53,52,52,52,52,56,62,62,62,62,60,62,62,65,62,62,61,62,66,68,65,65,58,53],
[53,52,52,52,52,56,62,62,62,60,62,60,62,63,63,62,61,63,67,69,65,65,58,53],
[53,52,52,49,50,55,62,64,65,65,65,65,65,65,65,63,62,65,68,70,65,65,58,53],
[52,52,51,51,51,52,52,53,60,60,60,59,59,60,57,56,58,62,65,65,63,62,56,52],
[52,52,51,51,49,52,53,60,62,62,60,62,61,62,60,57,58,57,63,65,62,62,57,53],
[54,52,52,52,51,58,62,65,65,65,63,65,65,65,62,61,61,65,65,65,65,60,56,52],
[56,53,52,52,52,55,62,60,59,58,57,57,58,62,62,58,61,63,65,67,65,62,56,51],
[54,52,52,52,52,55,62,61,62,65,62,62,63,62,62,62,65,65,68,68,67,62,58,52],
[54,53,53,52,52,57,62,65,67,68,69,65,69,69,65,65,62,65,69,69,68,62,58,53],
[52,52,52,52,52,56,65,63,60,58,62,62,62,62,62,62,63,63,68,67,65,62,56,53],
[53,53,53,53,53,53,55,60,63,63,62,61,63,62,61,60,60,64,65,68,65,62,59,55],
[53,53,53,52,51,52,53,59,61,62,62,62,62,62,61,60,60,63,65,65,65,62,60,57],
[54,52,52,52,52,56,62,65,65,63,62,62,65,65,65,65,65,65,68,70,67,67,61,57],
[53,49,52,53,51,56,62,65,65,65,65,62,65,65,63,61,62,65,68,69,65,65,60,54],
[53,52,52,51,52,56,62,63,65,65,65,65,65,65,63,63,65,65,68,68,65,65,60,54],
[53,52,52,52,52,56,62,63,65,63,65,63,65,65,65,64,65,65,68,70,65,65,60,53],
[53,52,51,50,49,55,62,65,65,65,65,65,65,65,65,63,65,65,70,68,65,65,60,53],
[45,44,44,44,45,47,48,50,53,53,54,54,58,60,57,57,60,63,65,65,65,62,58,53],
[53,53,52,52,52,55,59,63,63,62,62,62,62,63,62,60,60,63,65,65,65,63,53,45],
[53,52,52,52,52,55,62,65,65,65,65,65,65,65,64,62,64,65,65,66,65,62,58,52],
[52,52,50,50,51,54,62,62,63,62,63,62,65,65,62,61,62,65,67,67,65,62,58,51],
[52,51,51,50,52,54,62,63,56,49,52,55,59,65,60,57,57,61,64,65,65,62,58,52],
[50,50,50,50,50,52,62,63,61,60,60,62,63,63,62,63,64,65,65,65,65,62,58,53],
[50,50,50,49,50,52,62,65,65,65,64,65,65,65,63,63,65,65,66,65,65,62,58,51],
[51,51,51,50,50,50,50,53,58,58,58,58,62,61,55,55,60,63,65,65,65,62,57,50],
[52,51,52,52,52,54,54,62,65,65,65,65,65,65,62,62,62,65,65,65,65,62,58,52],
[53,52,52,52,52,54,65,65,65,62,62,62,62,65,65,63,63,65,66,65,63,62,58,52],
[52,52,52,51,52,55,65,65,65,63,62,62,63,65,64,62,62,65,66,66,63,62,58,52],
[52,52,52,51,50,50,54,59,61,64,65,64,64,65,64,58,58,60,64,65,65,62,58,52]
];
const dec=[
[53,52,52,49,49,49,56,59,65,63,62,62,63,62,65,61,60,62,65,74,74,65,60,58],
[53,52,50,49,49,49,56,59,65,62,62,62,63,61,65,60,59,61,65,67,67,65,60,57],
[54,52,49,49,49,51,55,62,63,63,64,61,60,58,60,59,59,59,65,65,65,65,58,56],
[52,52,53,52,52,51,55,62,65,65,60,60,65,62,60,60,60,60,66,68,67,62,57,52],
[52,52,52,49,49,51,55,63,62,61,60,58,58,60,57,56,57,58,64,65,65,62,56,52],
[50,49,49,49,49,51,55,60,62,62,59,57,60,56,58,57,58,57,65,65,65,62,57,53],
[57,51,50,50,50,50,50,51,55,55,56,56,59,55,52,53,55,55,61,61,61,60,56,52],
[53,51,51,52,50,52,54,62,65,65,63,63,65,65,65,62,63,65,70,72,65,61,58,55],
[50,49,49,49,49,50,53,60,62,62,60,62,60,60,60,58,60,57,65,65,65,62,58,53],
[53,50,49,49,50,53,59,65,65,65,65,65,63,65,61,61,63,62,65,65,65,62,58,53],
[52,52,49,52,49,53,60,60,62,63,61,62,65,65,65,60,60,62,63,66,66,65,60,53],
[50,52,49,49,50,53,61,65,65,65,58,65,65,65,60,62,60,65,67,72,65,62,60,52],
[52,50,49,49,49,53,60,60,62,65,65,65,65,63,60,60,60,65,66,71,65,65,55,50],
[52,49,49,49,49,50,59,63,63,62,62,65,65,65,60,60,60,65,65,66,65,60,60,50],
[49,48,48,48,48,48,49,53,55,56,56,56,56,56,54,55,56,56,61,65,63,57,55,50],
[49,48,48,48,48,48,49,54,62,60,58,58,59,60,56,55,57,60,65,65,60,57,55,50],
[48,48,48,48,48,51,61,65,65,65,63,62,62,63,60,58,58,62,65,62,60,56,54,50],
[51,49,51,51,51,54,60,61,60,58,57,58,58,59,55,54,53,65,65,65,60,57,54,50],
[38,36,37,40,42,43,47,47,47,47,45,42,44,49,47,47,48,50,60,65,60,55,53,48],
[41,40,40,41,41,43,46,44,44,42,41,41,43,43,42,41,43,47,55,58,54,48,47,42],
[42,39,39,40,42,48,58,52,52,49,47,47,50,50,53,48,52,56,60,60,61,53,47,44],
[54,54,54,54,54,54,56,57,60,60,54,55,56,52,50,50,52,54,60,53,53,52,52,47],
[51,49,49,48,49,49,54,63,65,62,62,60,64,65,61,61,60,62,65,65,65,65,60,57],
[48,48,48,48,48,48,52,58,63,63,62,62,60,60,58,60,60,60,62,65,65,65,60,55],
[52,52,49,52,52,54,59,62,63,65,65,63,65,65,62,65,65,65,66,68,65,65,58,54],
[52,52,52,54,52,54,58,61,63,65,65,60,65,65,62,62,62,65,68,69,65,62,56,52],
[52,52,52,52,52,54,63,65,65,61,62,62,62,65,60,60,60,65,69,70,65,60,56,52],
[52,52,50,50,50,53,63,65,65,65,60,60,59,65,65,61,60,65,69,70,65,60,56,52],
[52,52,49,49,49,50,51,56,60,60,60,61,60,65,60,62,58,62,65,66,65,62,56,52],
[53,52,49,49,50,53,58,60,65,65,62,62,65,65,63,60,57,61,65,65,65,62,58,52],
[54,52,49,49,49,53,63,65,65,65,65,65,65,65,62,60,58,62,65,66,65,63,58,52]
];
const monthGrids=[jan,feb,mar,apr,may,jun,jul,aug,sep,oct,nov,dec];

const NS='http://www.w3.org/2000/svg';
const svg=document.getElementById('chart');
const FRAME='#2a2a2a', INK='#454545';
const PW=464, BARW=48;

function make(tag,attrs,parent,txt){
  const el=document.createElementNS(NS,tag);
  for(const k in attrs) el.setAttribute(k,attrs[k]);
  if(txt!==undefined) el.textContent=txt;
  parent.appendChild(el);
  return el;
}
function hot(v){
  const t=Math.max(0,Math.min(1,(v-demandMin)/(demandMax-demandMin)));
  const c=x=>Math.round(255*Math.max(0,Math.min(1,x)));
  return 'rgb('+c(0.04+t/0.375)+','+c((t-0.375)/0.375)+','+c((t-0.75)/0.25)+')';
}

monthGrids.forEach(function(grid,m){
  const col=m%4, row=Math.floor(m/4);
  const L=197+914*col, T=97+877*row+(row===1?1:0), PH=596+2*row;
  const days=grid.length, R=L+PW, B=T+PH;
  const xEdge=h=>L+(h-1)*PW/24;          // left edge of hour h cell
  const xHour=h=>xEdge(h)+PW/48;         // centre of hour h
  const yEdge=d=>B-d*PH/days;            // top edge of day d cell
  const yDay=d=>yEdge(d)+PH/days/2;      // centre of day d
  const barX=R+37;
  const yBar=v=>B-(v-demandMin)/(demandMax-demandMin)*PH;
  const mName=monthNames[m].toLowerCase();

  const g=make('g',{},svg);
  
  

  const title=make('text',{x:L+PW/2,y:T-32+(row===0?0:3),'text-anchor':'middle','font-size':66,'font-weight':'bold',fill:'#111'},g,monthNames[m]);
  
  

  grid.forEach(function(cells,i){
    const day=days-i;
    cells.forEach(function(val,j){
      const hour=j+1;
      const r=make('rect',{x:xEdge(hour),y:yEdge(day),width:PW/24+0.5,height:PH/days+0.5,fill:hot(val/10),'shape-rendering':'crispEdges'},g);
      
      
    });
  });

  const frame=make('rect',{x:L,y:T,width:PW,height:PH,fill:'none',stroke:FRAME,'stroke-width':6},g);
  
  

  hourTicks.forEach(function(h){
    make('line',{x1:xHour(h),x2:xHour(h),y1:B,y2:B-8,stroke:FRAME,'stroke-width':5},g);
    make('line',{x1:xHour(h),x2:xHour(h),y1:T,y2:T+8,stroke:FRAME,'stroke-width':5},g);
    const t=make('text',{x:xHour(h),y:B+84,'text-anchor':'middle','font-size':56,fill:INK},g,String(h));
    
    
  });
  const xt=make('text',{x:L+PW/2,y:B+(row===2?172:168),'text-anchor':'middle','font-size':64,fill:INK},g,'Hour of Day');
  
  

  (days===28?febDayTicks:dayTicks).forEach(function(d){
    make('line',{x1:L,x2:L+8,y1:yDay(d),y2:yDay(d),stroke:FRAME,'stroke-width':5},g);
    make('line',{x1:R,x2:R-8,y1:yDay(d),y2:yDay(d),stroke:FRAME,'stroke-width':5},g);
    const t=make('text',{x:L-22,y:yDay(d)+20,'text-anchor':'end','font-size':56,fill:INK},g,String(d));
    
    
  });
  const yx=L-122, yy=T+PH/2;
  const yt=make('text',{x:yx,y:yy,'text-anchor':'middle','font-size':64,fill:INK,transform:'rotate(-90 '+yx+' '+yy+')'},g,'Day of Month');
  
  

  const steps=120;
  for(let s=0;s<steps;s++){
    const v0=demandMin+(demandMax-demandMin)*s/steps;
    const v1=demandMin+(demandMax-demandMin)*(s+1)/steps;
    const seg=make('rect',{x:barX,y:yBar(v1),width:BARW,height:yBar(v0)-yBar(v1)+0.5,fill:hot((v0+v1)/2),'shape-rendering':'crispEdges'},g);
    
    
  }
  const bf=make('rect',{x:barX,y:T,width:BARW,height:PH,fill:'none',stroke:FRAME,'stroke-width':6},g);
  
  
  colorbarTicks.forEach(function(v){
    make('line',{x1:barX,x2:barX+6,y1:yBar(v),y2:yBar(v),stroke:FRAME,'stroke-width':4},g);
    make('line',{x1:barX+BARW,x2:barX+BARW-6,y1:yBar(v),y2:yBar(v),stroke:FRAME,'stroke-width':4},g);
    const t=make('text',{x:barX+BARW+27,y:yBar(v)+19,'font-size':52,fill:INK},g,String(v));
    
    
  });
  const cx=barX+172, cy=T+PH/2;
  const ct=make('text',{x:cx,y:cy,'text-anchor':'middle','font-size':52,fill:INK,transform:'rotate(-90 '+cx+' '+cy+')'},g,'Demand (MW)');
  
  
});
</script>
</body>
</html>
